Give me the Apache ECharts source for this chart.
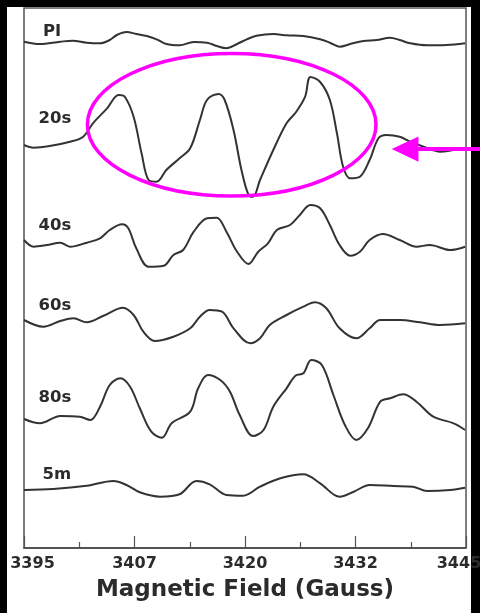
<!DOCTYPE html>
<html>
<head>
<meta charset="utf-8">
<script src="https://cdn.jsdelivr.net/npm/echarts@6/dist/echarts.min.js"></script>
<style>
html,body{margin:0;padding:0;background:#000;}
#chart{width:480px;height:613px;}
</style>
</head>
<body>
<div id="chart"></div>
<script>
// Field (Gauss) vs stacked EPR intensity (arbitrary units, trace offsets included)
const traceNames = ["PI", "20s", "40s", "60s", "80s", "5m"];
const xTickLabels = ["3395", "3407", "3420", "3432", "3445"];
const xAxisTitle = "Magnetic Field (Gauss)";

const tracePI = [[3395.0,506.3],[3396.8,504],[3399.1,506.3],[3400.5,507.3],[3402.1,505.3],[3403.6,504.7],[3404.7,508],[3405.5,513],[3406.6,516],[3407.7,514],[3408.9,512],[3410.0,508.7],[3411.1,504],[3412.6,502.7],[3414.2,506],[3415.7,505.3],[3416.8,502],[3417.9,499.7],[3419.1,504],[3420.2,508.7],[3421.3,512.3],[3423.2,514],[3424.7,512.7],[3426.6,512],[3428.5,508.7],[3429.6,505.3],[3430.7,501.3],[3431.9,504],[3433.4,507],[3434.9,508],[3436.4,510.3],[3437.5,508],[3438.7,504.7],[3440.6,502.7],[3442.8,503],[3444.9,504.7]];

const trace20s = [[3395.0,403],[3396.1,400.3],[3397.9,402],[3400.2,406.3],[3401.7,411.3],[3402.8,424.7],[3404.4,439.7],[3405.7,453],[3406.4,451.3],[3407.4,431.3],[3408.3,394.7],[3409.1,368],[3410.0,366.3],[3411.1,378],[3412.6,389.7],[3413.8,399.7],[3414.9,428],[3415.7,448],[3417.0,454],[3417.7,448],[3418.7,418],[3419.6,378],[3420.4,353],[3420.9,351.3],[3421.7,368],[3423.2,398],[3424.7,424.7],[3425.8,436.3],[3426.8,451.3],[3427.4,471],[3428.5,466],[3429.6,448],[3430.4,414.7],[3431.1,381.3],[3431.9,369.7],[3433.0,371.3],[3434.1,388],[3435.1,409.7],[3436.0,413],[3437.5,411.3],[3438.7,406.3],[3440.2,401.3],[3442.1,396.3],[3443.6,398],[3444.9,399.7]];

const trace40s = [[3395.0,308],[3396.1,301.3],[3397.6,303],[3399.1,305.3],[3400.2,301.3],[3402.1,305.3],[3403.6,309.7],[3404.7,318],[3406.1,323.7],[3406.8,319.7],[3407.7,299.7],[3409.1,281.3],[3410.8,282.3],[3411.9,293],[3413.0,298],[3414.2,316.3],[3415.7,329.7],[3416.8,330.3],[3417.9,316.3],[3419.1,296.3],[3420.4,284],[3421.5,296.3],[3422.6,304.7],[3423.6,318],[3425.1,323],[3426.2,333],[3427.4,343],[3428.5,339.7],[3429.6,323],[3430.7,303],[3431.9,292.3],[3433.0,296.3],[3434.1,308],[3435.6,314],[3437.5,308],[3439.4,301.3],[3440.9,303],[3443.2,298],[3444.9,301.3]];

const trace60s = [[3395.0,228],[3397.2,221.3],[3399.1,227],[3400.6,229.7],[3402.1,225.7],[3404.0,232.3],[3406.2,240.3],[3407.4,233],[3408.5,216.3],[3409.8,207],[3411.9,211.3],[3413.8,219.7],[3414.9,231.3],[3416.0,238],[3417.4,236.3],[3418.7,219.7],[3420.6,204.7],[3421.7,209.7],[3422.8,223],[3424.7,233],[3426.6,241.3],[3427.9,245.7],[3429.2,239.7],[3430.7,219.7],[3432.6,209.7],[3434.1,219.7],[3435.3,228],[3437.5,228],[3439.8,225.7],[3442.1,223],[3444.9,224.7]];

const trace80s = [[3395.0,129],[3396.8,124.7],[3399.1,132],[3401.3,131.3],[3402.5,128],[3403.6,141.3],[3404.7,163],[3405.9,169.7],[3407.0,161.3],[3408.1,139.7],[3409.4,116.3],[3410.6,110.3],[3411.7,124.7],[3413.8,136.3],[3414.7,159.7],[3415.8,173],[3417.2,168],[3418.3,156.3],[3419.4,133],[3420.9,112],[3422.1,118],[3423.2,141.3],[3424.7,159.7],[3425.7,172.3],[3426.6,174.7],[3427.5,188],[3428.7,183],[3430.0,153],[3431.3,123],[3432.6,108],[3433.9,119.7],[3435.3,146.3],[3436.4,149.7],[3437.9,153.7],[3439.4,146.3],[3441.3,131.3],[3443.6,124.7],[3444.9,118]];

const trace5m = [[3395.0,58],[3398.3,59],[3402.1,62.3],[3405.1,67],[3406.6,63],[3408.1,55.7],[3410.4,51.3],[3412.6,53.7],[3414.5,67],[3416.0,63.7],[3417.9,53],[3419.8,52.3],[3421.7,61.3],[3424.0,69.7],[3426.6,73.7],[3428.5,64.7],[3430.7,51.3],[3432.3,56.3],[3434.1,63],[3436.8,62],[3439.0,61.3],[3440.6,57],[3443.2,58],[3444.9,60.3]];

const traces = [tracePI, trace20s, trace40s, trace60s, trace80s, trace5m];

const chart = echarts.init(document.getElementById('chart'), null, {renderer: 'canvas'});
const FONT = 'DejaVu Sans';
const lineColor = '#333333';

const labelPos = [[43,32.5],[38.5,119],[38.5,226],[38.5,306.5],[38.5,398],[42.5,475]];

const graphics = [
  {type:'rect', z:-10, silent:true, shape:{x:7,y:7,width:464,height:606}, style:{fill:'#ffffff'}}
];
traceNames.forEach((n,i)=>{
  graphics.push({type:'text', z:50, left:labelPos[i][0], top:labelPos[i][1]-9,
    style:{text:n, fill:'#2b2b2b', font:'bold 16.5px "'+FONT+'"'}});
});
// magenta annotation: ellipse + arrow
graphics.push({type:'ellipse', z:60, silent:true, shape:{cx:231.7, cy:124.7, rx:144.3, ry:71.3},
  style:{fill:'none', stroke:'#ff00ff', lineWidth:3.5}});
graphics.push({type:'line', z:60, silent:true, shape:{x1:414, y1:149, x2:482, y2:149},
  style:{stroke:'#ff00ff', lineWidth:4}});
graphics.push({type:'polygon', z:60, silent:true, shape:{points:[[391.7,149],[418.5,136.5],[418.5,161.7]]},
  style:{fill:'#ff00ff'}});

const tickFont = {fontFamily:FONT, fontWeight:'bold', fontSize:16, color:'#2b2b2b'};

const option = {
  backgroundColor: '#000000',
  animation: false,
  grid: {left:24, right:14, top:8, bottom:65, show:true, borderColor:'#555', borderWidth:1.5,
    backgroundColor:'transparent', containLabel:false, outerBoundsMode:'none'},
  xAxis: {
    type:'value', min:3395, max:3445, interval:12.5,
    name: xAxisTitle, nameLocation:'middle', nameGap:31,
    nameTextStyle:{fontFamily:FONT, fontWeight:'bold', fontSize:23, color:'#2b2b2b'},
    axisLine:{show:true, lineStyle:{color:'#444', width:1.5}},
    axisTick:{show:true, inside:true, length:12, lineStyle:{color:'#555', width:1.2}},
    minorTick:{show:true, splitNumber:2, length:6, lineStyle:{color:'#555', width:1.2}},
    splitLine:{show:false},
    axisLabel:Object.assign({margin:8, hideOverlap:false, showMinLabel:true, showMaxLabel:true,
      formatter:(v)=>{
        const i = Math.round((v-3395)/12.5);
        const t = xTickLabels[i] ?? '';
        if (i === 0) return '{first|' + t + '}';
        if (i === xTickLabels.length - 1) return '{last|' + t + '}';
        return t;
      },
      rich:{
        first:Object.assign({padding:[0,0,0,17]}, tickFont),
        last:Object.assign({padding:[0,14,0,0]}, tickFont)
      }}, tickFont)
  },
  yAxis: {type:'value', min:0, max:540, show:false, splitLine:{show:false}},
  series: traces.map((d,i)=>({
    name: traceNames[i], type:'line', data:d, showSymbol:false, smooth:0.35,
    lineStyle:{color:lineColor, width:2}, silent:true
  })),
  graphic: graphics
};
chart.setOption(option);
</script>
</body>
</html>
